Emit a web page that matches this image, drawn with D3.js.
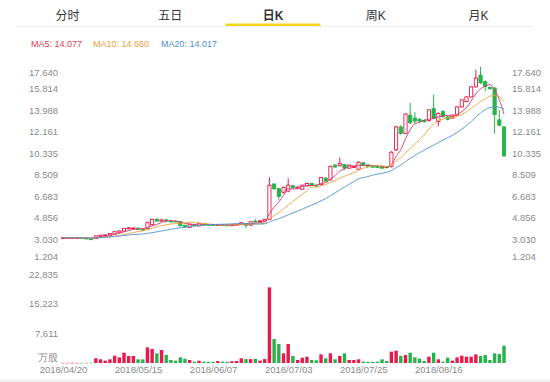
<!DOCTYPE html>
<html>
<head>
<meta charset="utf-8">
<script src="https://cdn.jsdelivr.net/npm/d3@7"></script>
<style>
  body { margin: 0; background: #fff; }
  svg { display: block; font-family: "Helvetica Neue", "Liberation Sans", Arial, "Noto Sans CJK SC", sans-serif; }
</style>
</head>
<body>
<div id="chart"></div>
<script>
// tabs + legend
const tabs = ["分时", "五日", "日K", "周K", "月K"];
const maNames = ["MA5", "MA10", "MA20"];
const maLegend = [14.077, 14.660, 14.017];
const maPeriods = [5, 10, 20];

// axis labels
const priceTicks = [1.204, 3.030, 4.856, 6.683, 8.509, 10.335, 12.161, 13.988, 15.814, 17.640];
const volTicks = [0, 7611, 15223, 22835];
const dateLabels = ["2018/04/20", "2018/05/15", "2018/06/07", "2018/07/03", "2018/07/25", "2018/08/16"];
const dateIndex = [0, 16, 32, 48, 64, 80];

// daily candles
const open = [3.14,3.14,3.14,3.14,3.14,3.10,3.04,3.08,3.25,3.33,
  3.37,3.45,3.60,3.70,3.90,3.95,3.95,3.85,3.90,4.25,
  4.70,4.55,4.65,4.55,4.55,4.50,4.20,4.02,4.25,4.15,
  4.30,4.27,4.25,4.20,4.25,4.22,4.18,4.22,4.28,4.35,
  4.20,4.55,4.50,4.55,4.70,7.70,7.30,7.00,7.10,7.55,
  7.35,7.25,7.55,7.75,7.60,7.65,8.20,8.05,9.30,9.25,
  9.35,9.05,9.10,8.95,9.50,9.30,9.20,9.20,9.20,9.15,
  9.20,10.60,12.55,12.00,13.55,13.30,13.20,13.10,13.10,14.10,
  13.00,13.85,13.40,13.30,13.55,14.25,14.70,15.10,15.95,16.95,
  16.40,15.90,15.85,13.15,12.55];
const high = [3.15,3.15,3.15,3.15,3.15,3.11,3.06,3.31,3.38,3.40,
  3.52,3.67,3.74,3.95,4.02,4.00,3.97,3.88,4.50,4.75,
  4.80,4.75,4.75,4.60,4.58,4.55,4.22,4.30,4.28,4.38,
  4.33,4.30,4.27,4.28,4.27,4.24,4.25,4.30,4.45,4.38,
  4.52,4.70,4.62,4.72,8.27,7.75,7.40,7.50,8.20,7.60,
  7.50,7.65,7.80,7.80,7.65,8.30,8.25,9.25,9.40,9.95,
  9.40,9.35,9.25,9.65,9.55,9.35,9.25,9.24,9.25,9.20,
  10.50,12.65,12.70,13.70,14.60,13.80,13.30,13.20,14.05,15.30,
  13.80,14.00,13.50,13.60,14.30,14.90,15.15,16.00,17.40,17.64,
  16.50,16.00,15.95,14.00,12.60];
const low = [3.13,3.13,3.13,3.13,3.12,3.02,3.02,3.06,3.22,3.30,
  3.35,3.43,3.58,3.68,3.85,3.90,3.83,3.77,3.85,4.20,
  4.50,4.50,4.45,4.45,4.46,4.10,3.95,4.00,4.17,4.12,
  4.22,4.20,4.18,4.18,4.18,4.15,4.16,4.20,4.26,3.95,
  4.18,4.40,4.47,4.52,4.65,7.20,6.35,6.90,7.00,7.30,
  7.30,7.20,7.50,7.55,7.50,7.60,7.90,8.00,9.05,9.20,
  8.95,9.00,9.05,8.90,9.25,9.15,9.10,9.05,9.00,9.05,
  9.10,10.50,11.90,11.95,12.80,12.85,12.90,12.90,13.00,13.20,
  12.60,13.30,13.10,13.25,13.50,14.20,14.65,15.05,15.90,16.20,
  15.60,15.70,12.00,12.60,10.00];
const close = [3.14,3.14,3.14,3.14,3.13,3.04,3.03,3.30,3.36,3.38,
  3.50,3.65,3.72,3.92,3.98,3.97,3.85,3.80,4.45,4.70,
  4.55,4.65,4.55,4.50,4.50,4.15,4.10,4.28,4.20,4.35,
  4.25,4.22,4.20,4.25,4.20,4.18,4.23,4.28,4.42,4.20,
  4.50,4.50,4.58,4.70,7.60,7.30,6.65,7.40,7.60,7.40,
  7.45,7.60,7.75,7.60,7.55,8.25,7.95,9.20,9.15,9.45,
  9.05,9.30,9.20,9.55,9.30,9.20,9.15,9.10,9.05,9.10,
  10.40,12.55,12.00,13.65,12.90,13.05,13.05,13.00,14.00,13.28,
  13.70,13.45,13.20,13.55,14.25,14.85,15.10,15.95,16.70,16.30,
  16.00,15.80,13.60,12.70,10.10];
// volume, 万股
const volume = [60,50,40,50,40,60,70,1200,940,600,
  940,1880,1450,2650,1790,1790,940,940,4000,3590,
  2480,3330,2050,770,600,1450,1100,770,340,600,
  340,300,300,500,350,300,450,500,1200,1000,
  1000,1050,600,1000,19400,6140,4860,2480,4860,1790,
  770,1360,1620,770,700,2220,1200,2480,940,1790,
  2480,770,770,940,340,300,300,340,940,500,
  2900,3160,1800,2050,2650,1450,1100,500,1620,2650,
  940,340,1370,600,1450,1880,1620,1620,2220,1800,
  2050,770,2480,2300,4440];

const W = 550, H = 382;
const RED = "#e8194c", GREEN = "#27b24b";
const maColors = ["#d2376b", "#eea23a", "#4f92d3"];
const legendColors = ["#df3b55", "#e9a13f", "#4a8fd1"];
const axisColor = "#8a8a8a";

const svg = d3.select("#chart").append("svg")
  .attr("width", W)
  .attr("height", H)

// ---- tabs
const tabX = d3.scaleBand().domain(tabs).range([16, 530]);
svg.append("line")
  .attr("x1", 16).attr("x2", 534)
  .attr("y1", 26.5).attr("y2", 26.5)
  .attr("stroke", "#eeeeee")
svg.selectAll(".tab")
  .data(tabs)
  .enter()
  .append("text")
    .attr("x", d => tabX(d) + tabX.bandwidth() / 2)
    .attr("y", 20)
    .attr("text-anchor", "middle")
    .attr("font-size", 12)
    .attr("font-weight", d => d === "日K" ? "bold" : "normal")
    .attr("fill", "#333")
    .text(d => d)
svg.append("rect")
  .attr("x", tabX("日K") + 4)
  .attr("y", 23.5)
  .attr("width", tabX.bandwidth() - 8)
  .attr("height", 2.5)
  .attr("fill", "#f6d31b")

// ---- MA legend
const legendX = [31, 93, 161];
svg.selectAll(".legend")
  .data(maNames)
  .enter()
  .append("text")
    .attr("x", (d, i) => legendX[i])
    .attr("y", 47)
    .attr("font-size", 9)
    .attr("fill", (d, i) => legendColors[i])
    .text((d, i) => d + ": " + maLegend[i].toFixed(3))

// ---- scales
const x = d3.scaleLinear().domain([0, close.length - 1]).range([63, 504]);
const y = d3.scaleLinear().domain([priceTicks[0], priceTicks[priceTicks.length - 1]]).range([260.5, 67]);
const yv = d3.scaleLinear().domain([0, volTicks[volTicks.length - 1]]).range([363, 274]);
const bw = 3.2;

// ---- price axes (edge labels pushed inward like the original)
const pmin = priceTicks[0], pmax = priceTicks[priceTicks.length - 1];
function priceAxis(axis, tx) {
  const g = svg.append("g")
    .attr("transform", `translate(${tx},0)`)
    .call(axis.tickValues(priceTicks).tickSize(0).tickPadding(0).tickFormat(d => d.toFixed(3)));
  g.select(".domain").remove();
  g.selectAll("text")
    .attr("fill", axisColor)
    .attr("font-size", 9.5)
    .attr("transform", d => d === pmax ? "translate(0,5)" : d === pmin ? "translate(0,-4.5)" : null);
  return g;
}
priceAxis(d3.axisLeft(y), 58);
priceAxis(d3.axisRight(y), 512);

// ---- volume axis
const vg = svg.append("g")
  .attr("transform", "translate(58,0)")
  .call(d3.axisLeft(yv).tickValues(volTicks).tickSize(0).tickPadding(0)
    .tickFormat(d => d === 0 ? "万股" : d3.format(",")(d)));
vg.select(".domain").remove();
vg.selectAll("text")
  .attr("fill", axisColor)
  .attr("font-size", 9.5)
  .attr("transform", d => d === 0 ? "translate(0,-6)" : null);

// ---- date axis
const dg = svg.append("g")
  .attr("transform", "translate(0,364)")
  .call(d3.axisBottom(x).tickValues(dateIndex).tickSize(0).tickPadding(2)
    .tickFormat((d, i) => dateLabels[i]));
dg.select(".domain").remove();
dg.selectAll("text")
  .attr("fill", axisColor)
  .attr("font-size", 9.5);

// ---- candles
const idx = d3.range(close.length);
const up = i => close[i] >= open[i];

svg.append("g").selectAll("line")
  .data(idx)
  .enter()
  .append("line")
    .attr("x1", i => x(i)).attr("x2", i => x(i))
    .attr("y1", i => y(high[i])).attr("y2", i => y(low[i]))
    .attr("stroke", i => up(i) ? RED : GREEN)
    .attr("stroke-width", 1)

svg.append("g").selectAll("rect")
  .data(idx)
  .enter()
  .append("rect")
    .attr("x", i => x(i) - bw / 2)
    .attr("y", i => y(Math.max(open[i], close[i])))
    .attr("width", bw)
    .attr("height", i => Math.max(0.8, Math.abs(y(open[i]) - y(close[i]))))
    .attr("fill", i => up(i) ? "#fff" : GREEN)
    .attr("stroke", i => up(i) ? RED : GREEN)
    .attr("stroke-width", 0.9)

// ---- moving averages
maPeriods.forEach((n, k) => {
  const ma = idx.map(i => d3.mean(close.slice(Math.max(0, i - n + 1), i + 1)));
  svg.append("path")
    .datum(ma)
    .attr("fill", "none")
    .attr("stroke", maColors[k])
    .attr("stroke-width", 0.9)
    .attr("d", d3.line().x((d, i) => x(i)).y(d => y(d)).curve(d3.curveMonotoneX));
});

// ---- volume bars
svg.append("g").selectAll("rect")
  .data(idx)
  .enter()
  .append("rect")
    .attr("x", i => x(i) - 1.7)
    .attr("y", i => yv(volume[i]))
    .attr("width", 3.4)
    .attr("height", i => Math.max(0.5, yv(0) - yv(volume[i])))
    .attr("fill", i => up(i) ? RED : GREEN)

// faint strip at the very bottom
svg.append("rect")
  .attr("x", 0).attr("y", 379)
  .attr("width", W).attr("height", 3)
  .attr("fill", "#f4f4f4")
</script>
</body>
</html>
